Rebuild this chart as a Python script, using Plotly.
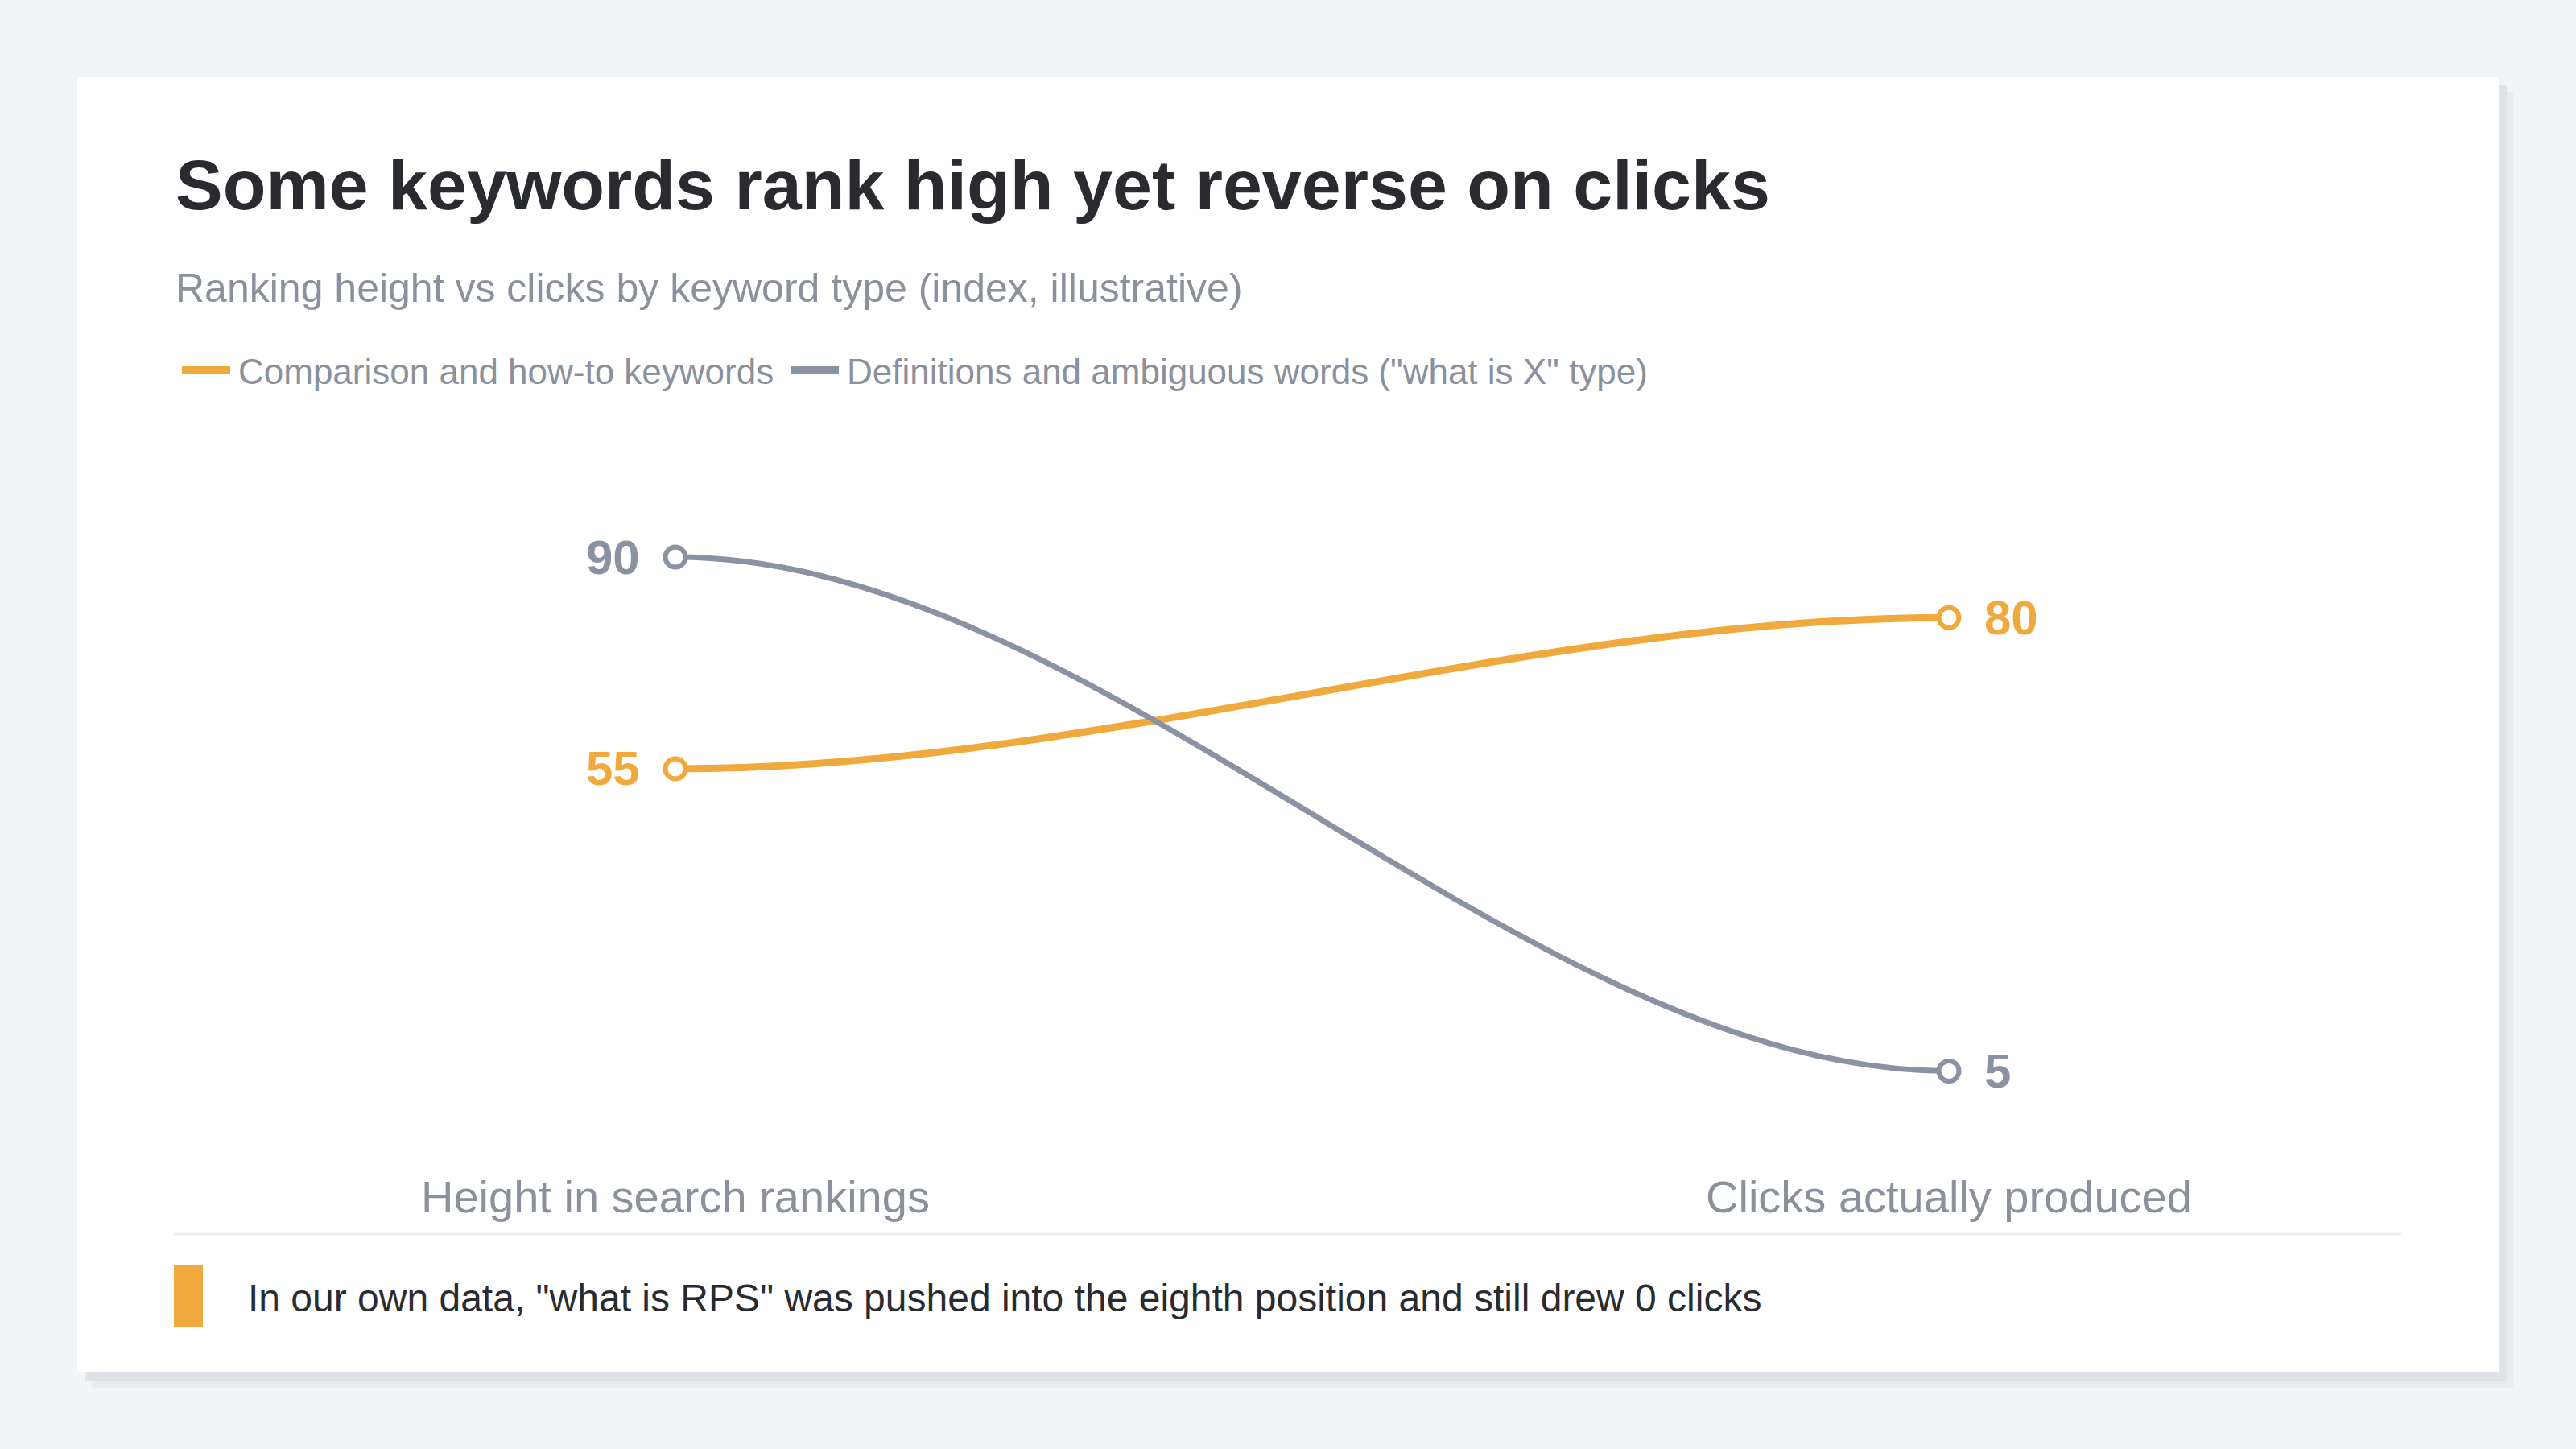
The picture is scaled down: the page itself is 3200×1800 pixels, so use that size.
import plotly.graph_objects as go

# chart values
categories = ["Height in search rankings", "Clicks actually produced"]
series_names = ["Comparison and how-to keywords",
                'Definitions and ambiguous words ("what is X" type)']
comparison_vals = [55, 80]
definition_vals = [90, 5]

title = "Some keywords rank high yet reverse on clicks"
subtitle = "Ranking height vs clicks by keyword type (index, illustrative)"
note = 'In our own data, "what is RPS" was pushed into the eighth position and still drew 0 clicks'

W, H = 3200, 1800
FONT = "Liberation Sans, Arial, Helvetica, sans-serif"
ORANGE = "#f0a93c"
SLATE = "#8a93a2"
LABEL_GRAY = "#8a909c"
INK = "#2a2b30"


def px(x):
    return x / W


def py(y):
    return 1 - y / H


def bump_path(x0, y0, x1, y1):
    # smooth s-curve between two points, flat tangents at both ends
    dx = (x1 - x0) / 3
    return f"M {x0},{y0} C {x0 + dx},{y0} {x1 - dx},{y1} {x1},{y1}"


xpos = list(range(len(categories)))
series = [
    (series_names[0], comparison_vals, ORANGE, 9),
    (series_names[1], definition_vals, SLATE, 7),
]

fig = go.Figure()
shapes = [
    # card shadow + card
    dict(type="rect", xref="paper", yref="paper", x0=px(114), x1=px(3122), y0=py(1724), y1=py(114),
         fillcolor="#e9ebef", line_width=0, layer="below"),
    dict(type="rect", xref="paper", yref="paper", x0=px(106), x1=px(3114), y0=py(1716), y1=py(106),
         fillcolor="#dfe2e7", line_width=0, layer="below"),
    dict(type="rect", xref="paper", yref="paper", x0=px(96), x1=px(3104), y0=py(1704), y1=py(96),
         fillcolor="white", line_width=0, layer="below"),
    # footer divider and accent bar
    dict(type="line", xref="paper", yref="paper", x0=px(216), x1=px(2983), y0=py(1533), y1=py(1533),
         line=dict(color="#eceef2", width=3)),
    dict(type="rect", xref="paper", yref="paper", x0=px(216), x1=px(252), y0=py(1648), y1=py(1572),
         fillcolor=ORANGE, line_width=0),
]
annotations = [
    dict(text=f"<b>{title}</b>", x=px(216), y=py(229), xanchor="left", yanchor="middle",
         font=dict(size=88, color=INK)),
    dict(text=subtitle, x=px(216), y=py(358), xanchor="left", yanchor="middle",
         font=dict(size=50, color=LABEL_GRAY)),
    dict(text=note, x=px(306), y=py(1612), xanchor="left", yanchor="middle",
         font=dict(size=48, color=INK)),
]

# hand-made legend (longer swatches than plotly's own)
legend_x = [226, 982]
for (name, vals, color, lw), lx in zip(series, legend_x):
    shapes.append(dict(type="line", xref="paper", yref="paper", x0=px(lx), x1=px(lx + 60),
                       y0=py(460), y1=py(460), line=dict(color=color, width=10)))
    annotations.append(dict(text=name, x=px(lx + 68), y=py(462), xanchor="left", yanchor="middle",
                            font=dict(size=44, color=LABEL_GRAY)))

for name, vals, color, lw in series:
    # curve sits under the endpoint markers
    shapes.append(dict(type="path", xref="x", yref="y", layer="below",
                       path=bump_path(xpos[0], vals[0], xpos[1], vals[1]),
                       line=dict(color=color, width=lw)))
    fig.add_trace(go.Scatter(x=xpos, y=vals, name=name, mode="markers", showlegend=False,
                             marker=dict(symbol="circle", size=25, color="white",
                                         line=dict(color=color, width=6)),
                             hoverinfo="skip"))
    annotations.append(dict(text=f"<b>{vals[0]}</b>", x=xpos[0], y=vals[0], xref="x", yref="y",
                            xanchor="right", yanchor="middle", xshift=-42,
                            font=dict(size=60, color=color)))
    annotations.append(dict(text=f"<b>{vals[1]}</b>", x=xpos[1], y=vals[1], xref="x", yref="y",
                            xanchor="left", yanchor="middle", xshift=42,
                            font=dict(size=60, color=color)))

for xp, cat in zip(xpos, categories):
    annotations.append(dict(text=cat, x=xp, y=py(1486), xref="x", yref="paper",
                            xanchor="center", yanchor="middle",
                            font=dict(size=56, color=LABEL_GRAY)))

for a in annotations:
    a.setdefault("xref", "paper")
    a.setdefault("yref", "paper")
    a["showarrow"] = False

fig.update_layout(
    width=W, height=H,
    margin=dict(l=0, r=0, t=0, b=0, pad=0, autoexpand=False),
    paper_bgcolor="#f3f4f8", plot_bgcolor="rgba(0,0,0,0)",
    font=dict(family=FONT),
    showlegend=False,
    shapes=shapes,
    annotations=annotations,
    xaxis=dict(domain=[px(443.5), px(2816.5)], range=[-0.25, 1.25], visible=False),
    yaxis=dict(domain=[py(1368), py(617)], range=[0, 100], visible=False),
)

fig.write_html("out.html", config={"displayModeBar": False},
               post_script="document.body.style.margin='0';")
